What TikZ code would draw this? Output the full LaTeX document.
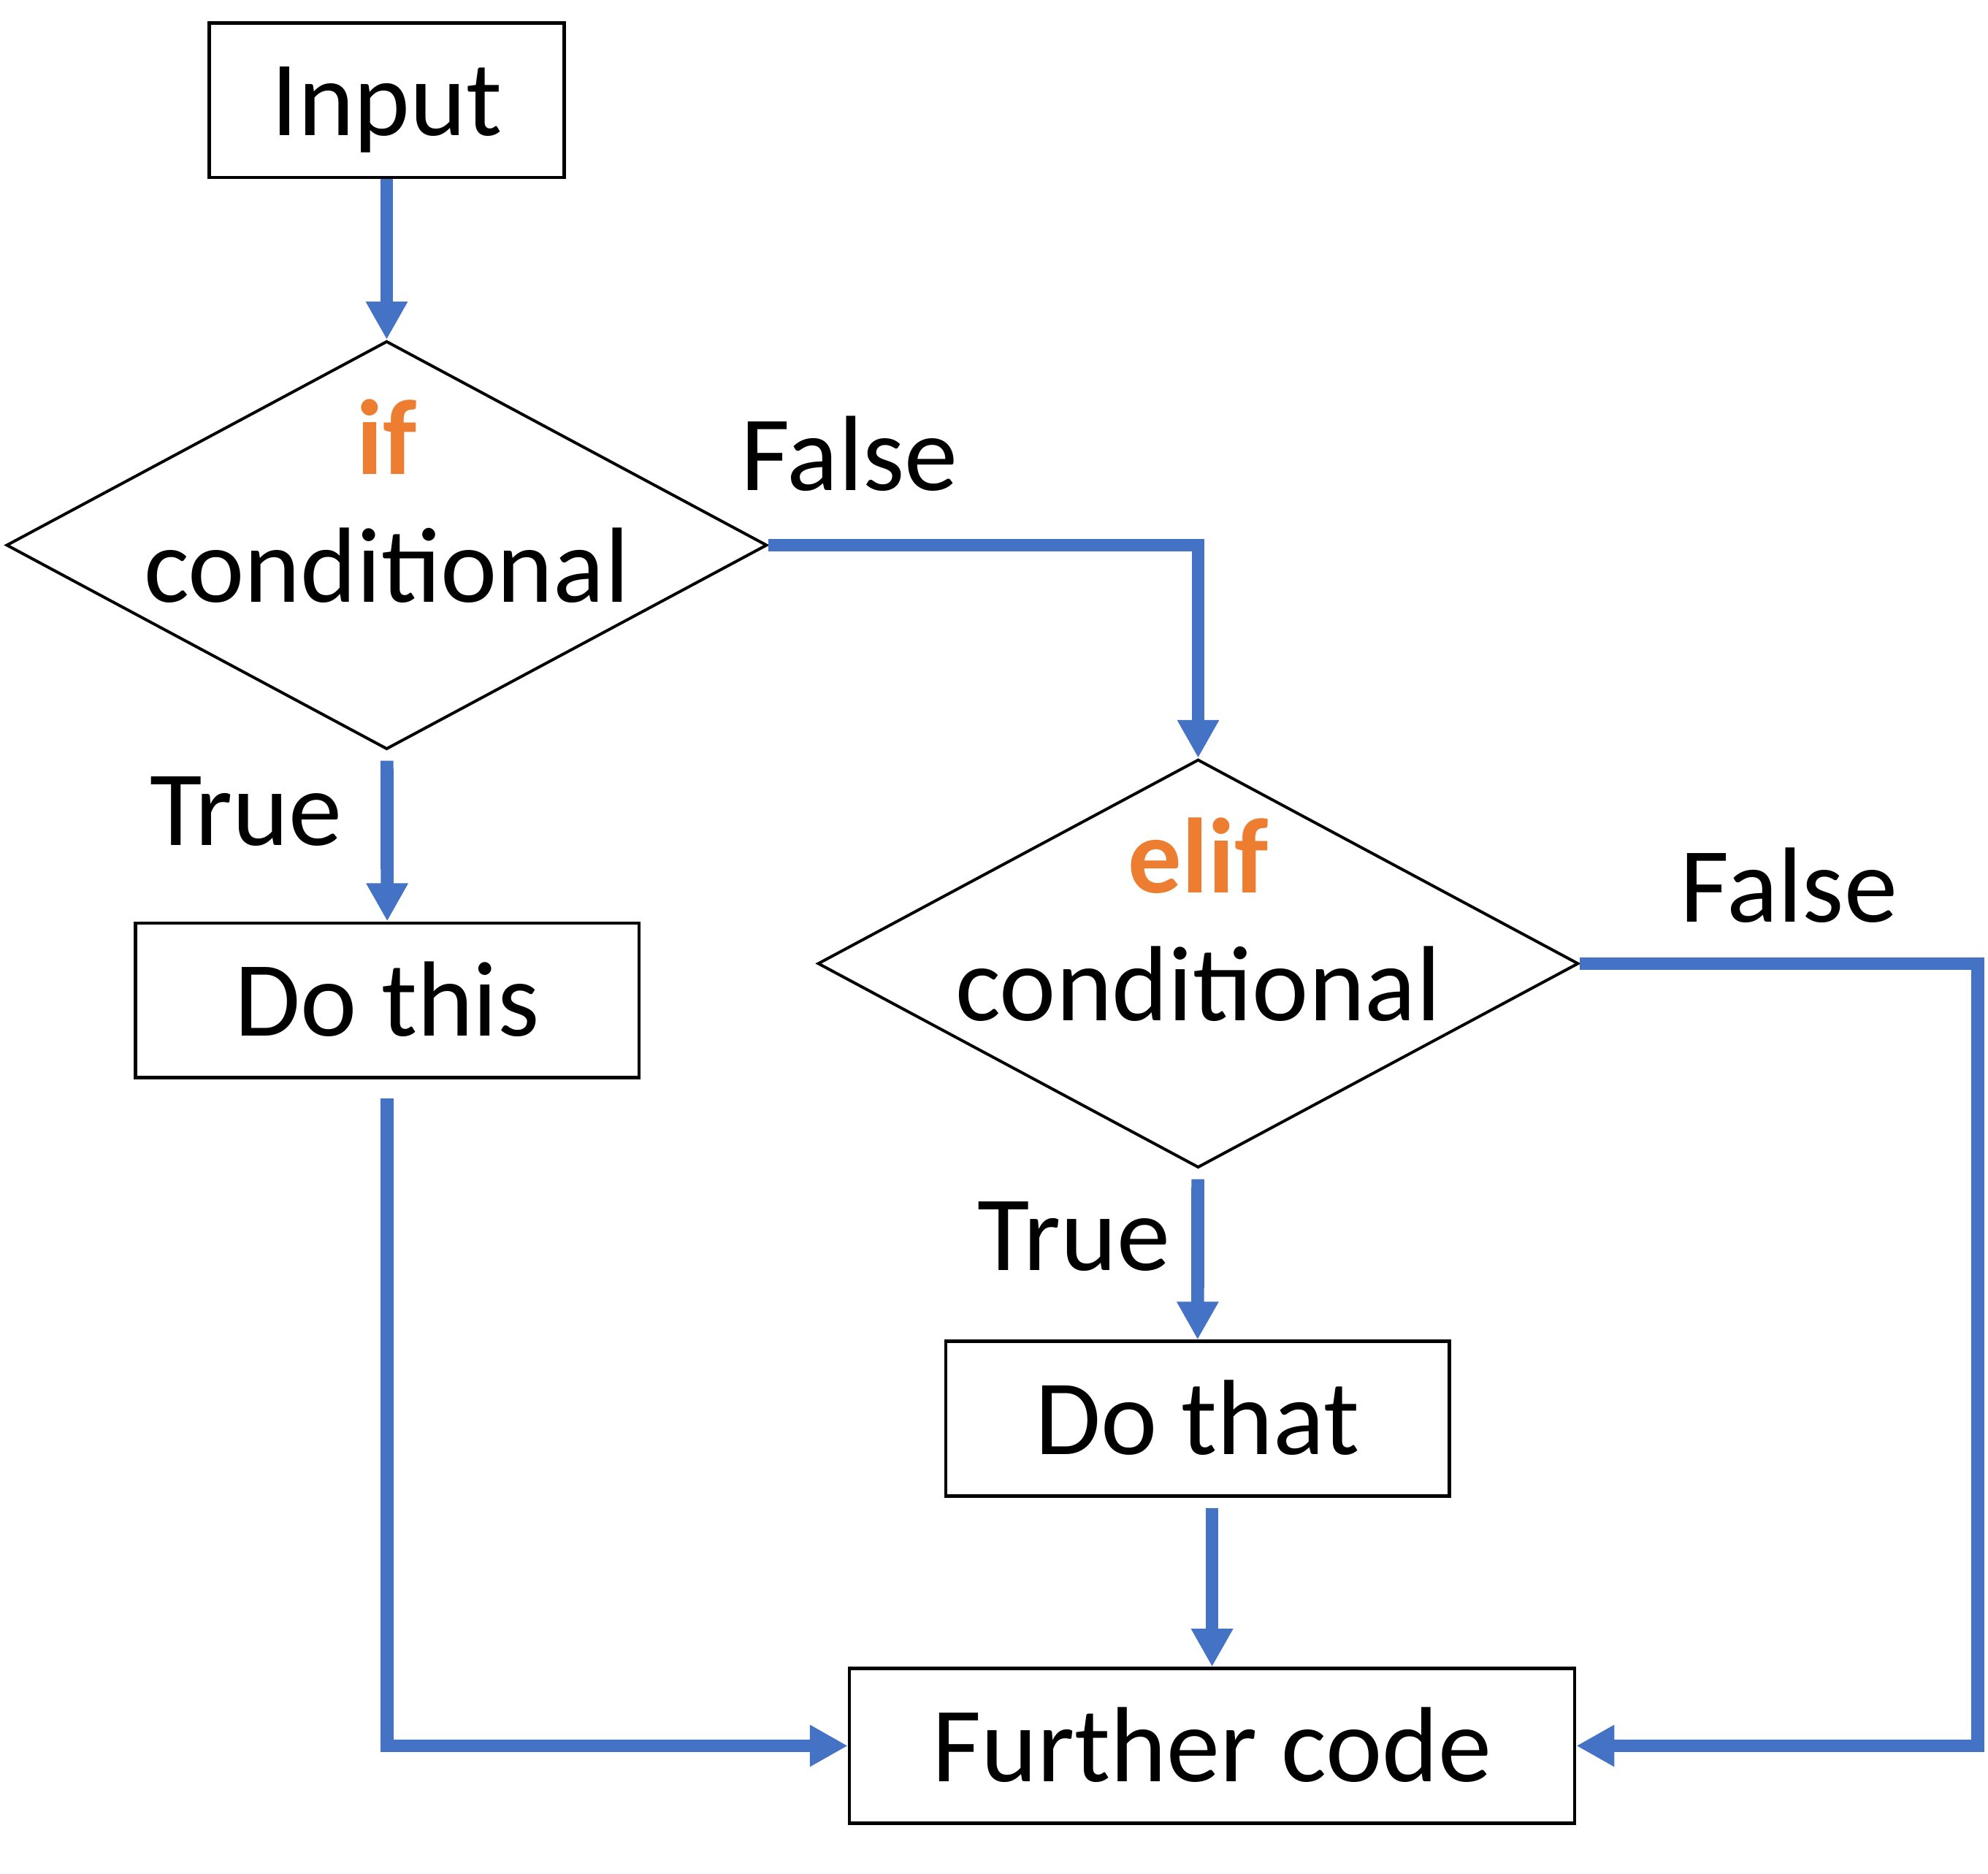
\documentclass[tikz,border=0pt]{standalone}
\usepackage{fontspec}
\setmainfont{Carlito}
\usetikzlibrary{arrows.meta,shapes.geometric}
\definecolor{flowblue}{HTML}{4472C4}
\definecolor{kworange}{HTML}{ED7D31}
\begin{document}
\begin{tikzpicture}[
        box/.style={draw,line width=0.75pt,minimum height=1.22cm,inner sep=0pt,text height=0.56cm,text depth=0pt},
        decision/.style={draw,diamond,line width=0.65pt,minimum width=6cm,minimum height=3.22cm,inner sep=0pt},
        flow/.style={draw=flowblue,line width=2.9pt,-{Triangle[length=0.3cm,width=0.31cm]}},
        lbl/.style={anchor=base},
        font=\fontsize{24}{29}\selectfont]
        \useasboundingbox (0,0) rectangle (15.68,-14.78);
        \node[box,minimum width=2.8cm] (input) at (3.05,-0.79) {Input};
        \node[decision] (ifcond) at (3.05,-4.30) {};
        \node[lbl,text=kworange] (iftxt) at (3.05,-3.74) {\bfseries if};
        \node[lbl] (ifcondtxt) at (3.05,-4.75) {conditional};
        \node[decision] (elifcond) at (9.45,-7.60) {};
        \node[lbl,text=kworange] (eliftxt) at (9.45,-7.04) {\bfseries elif};
        \node[lbl] (elifcondtxt) at (9.45,-8.05) {conditional};
        \node[box,minimum width=3.97cm] (dothis) at (3.055,-7.89) {Do this};
        \node[box,minimum width=3.97cm] (dothat) at (9.445,-11.19) {Do that};
        \node[box,minimum width=5.72cm] (further) at (9.56,-13.77) {Further code};
        \node[lbl] (false1) at (6.70,-3.87) {False};
        \node[lbl] (false2) at (14.11,-7.27) {False};
        \node[lbl] (true1) at (1.94,-6.67) {True};
        \node[lbl] (true2) at (8.47,-10.02) {True};
        \coordinate (rightedge) at (15.60,-7.60);
        \draw[flow] (input) -- (ifcond);
        \draw[flow,shorten <=0.08cm] (ifcond) -- (dothis);
        \draw[flow] (ifcond.east) -| (elifcond.north);
        \draw[flow,shorten <=0.08cm] (elifcond) -- (dothat);
        \draw[flow,shorten <=0.15cm] (dothis) |- (further.west);
        \draw[flow,shorten <=0.08cm] (dothat.south -| further.north) -- (further.north);
        \draw[flow] (elifcond.east) -- (rightedge) |- (further.east);
    \end{tikzpicture}
\end{document}
